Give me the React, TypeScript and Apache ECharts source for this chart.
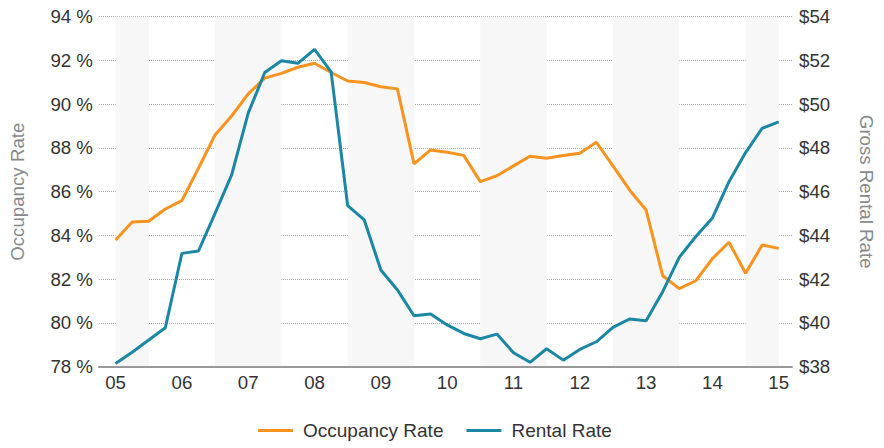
import React, { useEffect, useRef } from "react";
import * as echarts from "echarts";

const yearLabels = ["05", "06", "07", "08", "09", "10", "11", "12", "13", "14", "15"];
const quarterNames = ["Q1", "Q2", "Q3", "Q4"];
const quarterLabels: string[] = yearLabels
  .flatMap((y) => quarterNames.map((q) => `${y} ${q}`))
  .slice(0, 41);

const occupancyRate = [
  83.79, 84.62, 84.65, 85.21, 85.59, 87.07, 88.59, 89.46, 90.47, 91.19, 91.41,
  91.69, 91.87, 91.45, 91.06, 90.99, 90.8, 90.7, 87.27, 87.91, 87.8, 87.66,
  86.46, 86.73, 87.18, 87.62, 87.53, 87.65, 87.76, 88.26, 87.18, 86.08, 85.16,
  82.16, 81.57, 81.93, 82.94, 83.69, 82.27, 83.56, 83.41,
];

const rentalRate = [
  38.15, 38.66, 39.22, 39.78, 43.18, 43.29, 45.01, 46.77, 49.59, 51.45, 51.99,
  51.87, 52.51, 51.48, 45.36, 44.71, 42.42, 41.51, 40.33, 40.41, 39.91, 39.52,
  39.28, 39.49, 38.64, 38.2, 38.82, 38.3, 38.79, 39.14, 39.8, 40.18, 40.1,
  41.43, 43.0, 43.95, 44.8, 46.46, 47.79, 48.9, 49.19,
];

// shaded periods (in years, 2-digit)
const shadedRanges: [number, number][] = [
  [5, 5.5],
  [6.5, 7.5],
  [8.5, 9.5],
  [10.5, 11.5],
  [12.5, 13.5],
  [14.5, 15],
];

const firstYear = Number(yearLabels[0]);
const xOf = (i: number) => firstYear + i / 4;
const yearTicks = yearLabels.map((y) => Number(y));

const FONT = "'Liberation Sans', Arial, sans-serif";
const ORANGE = "#F7931E";
const BLUE = "#1C87A5";

export default function App() {
  const ref = useRef<HTMLDivElement>(null);

  useEffect(() => {
    if (!ref.current) return;
    const chart = echarts.init(ref.current, undefined, { renderer: "svg" });
    chart.setOption({
      animation: false,
      textStyle: { fontFamily: FONT },
      grid: { left: 95, right: 89, top: 16.7, bottom: 81.3, containLabel: false },
      legend: {
        left: 258,
        top: 421,
        padding: 0,
        icon: "rect",
        itemWidth: 35,
        itemHeight: 3,
        itemGap: 23,
        textStyle: { fontSize: 19, color: "#333", fontFamily: FONT, padding: [0, 0, 0, 5] },
        data: ["Occupancy Rate", "Rental Rate"],
      },
      xAxis: {
        type: "value",
        min: 4.75,
        max: 15.2,
        z: 10,
        axisLine: { show: true, onZero: false, lineStyle: { color: "#999", width: 2 } },
        axisTick: { show: false },
        splitLine: { show: false },
        axisLabel: {
          customValues: yearTicks,
          formatter: (v: number) => String(Math.round(v)).padStart(2, "0"),
          fontSize: 18.7,
          color: "#333",
          margin: 6,
          fontFamily: FONT,
        },
      },
      yAxis: [
        {
          type: "value",
          min: 78,
          max: 94,
          interval: 2,
          name: "Occupancy Rate",
          nameLocation: "middle",
          nameGap: 72,
          nameTextStyle: { fontSize: 18.7, color: "#888", fontFamily: FONT },
          axisLine: { show: false },
          axisTick: { show: false },
          axisLabel: {
            formatter: "{value} %",
            fontSize: 18.7,
            color: "#333",
            margin: 6,
            fontFamily: FONT,
          },
          splitLine: { show: true, lineStyle: { type: "dotted", color: "#aaa", width: 1 } },
        },
        {
          type: "value",
          min: 38,
          max: 54,
          interval: 2,
          position: "right",
          name: "Gross Rental Rate",
          nameLocation: "middle",
          nameRotate: -90,
          nameGap: 65,
          nameTextStyle: { fontSize: 18.7, color: "#888", fontFamily: FONT },
          axisLine: { show: false },
          axisTick: { show: false },
          axisLabel: {
            formatter: "${value}",
            fontSize: 18.7,
            color: "#333",
            margin: 7,
            fontFamily: FONT,
          },
          splitLine: { show: false },
        },
      ],
      series: [
        {
          name: "Occupancy Rate",
          type: "line",
          yAxisIndex: 0,
          symbol: "none",
          lineStyle: { color: ORANGE, width: 3 },
          itemStyle: { color: ORANGE },
          data: occupancyRate.map((v, i) => [xOf(i), v]),
          markArea: {
            silent: true,
            itemStyle: { color: "#F7F7F7" },
            data: shadedRanges.map(([a, b]) => [{ xAxis: a }, { xAxis: b }]),
          },
          z: 2,
        },
        {
          name: "Rental Rate",
          type: "line",
          yAxisIndex: 1,
          symbol: "none",
          lineStyle: { color: BLUE, width: 3 },
          itemStyle: { color: BLUE },
          data: rentalRate.map((v, i) => [xOf(i), v]),
          z: 3,
        },
      ],
    });
    return () => chart.dispose();
  }, []);

  return (
    <div
      ref={ref}
      data-quarters={quarterLabels.length}
      style={{ position: "fixed", left: 0, top: 0, width: 884, height: 448, background: "#fff" }}
    />
  );
}
